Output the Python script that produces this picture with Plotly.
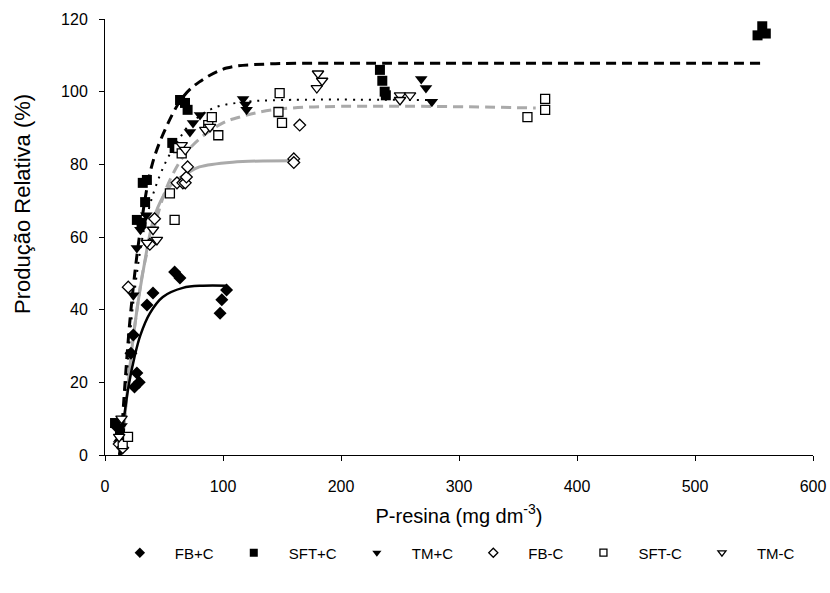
import plotly.graph_objects as go

fbc_pos_x = [10, 13, 22, 24, 25, 27, 29, 35.6, 40.7, 59, 63.5, 97.5, 99, 103]
fbc_pos_y = [7.7, 4, 28, 33, 18.7, 22.6, 20, 41.3, 44.6, 50.4, 48.7, 39, 42.7, 45.4]

sft_pos_x = [8.5, 12.7, 27, 31, 32, 34, 35.5, 57, 59, 63.6, 67.8, 70, 233, 235, 237, 238, 553, 557, 560]
sft_pos_y = [8.8, 6, 64.7, 63.9, 74.9, 69.6, 75.7, 85.9, 84.5, 97.7, 96.9, 95, 106, 103, 100, 99, 115.5, 118, 116]

tm_pos_x = [12, 14, 24, 27, 30, 35, 72, 74.6, 80.5, 117, 119, 120, 268, 272, 277]
tm_pos_y = [3, 8, 44, 57, 62, 66, 88.9, 91.4, 93.6, 98, 96.5, 95, 103.5, 101, 97.2]

fb_neg_x = [12, 15, 19.7, 38, 42, 61, 66, 68, 69, 70, 160, 160, 165]
fb_neg_y = [3, 2, 46.2, 58, 65, 74.9, 74.9, 74.9, 76.5, 79.3, 81.5, 80.5, 90.8]

sft_neg_x = [15, 19.5, 55, 59, 62, 65, 87.5, 90.5, 96, 147, 148, 150, 358, 373, 373]
sft_neg_y = [3, 5, 72, 64.7, 84.5, 83, 90.8, 93, 88, 94.4, 99.6, 91.4, 93, 95, 98]

tm_neg_x = [12, 14, 35.6, 40.7, 44, 65, 68, 85, 89, 179.5, 180.5, 184, 250, 250, 258.5]
tm_neg_y = [5, 10, 58.4, 62, 59.2, 85.3, 84, 89.5, 90.3, 101, 105, 103, 99, 97.7, 99]

# ---- fitted curves ----
fit_fbc_pos_x = [12, 16, 20, 25, 30, 38, 49, 66, 83, 103]
fit_fbc_pos_y = [0, 10, 19, 27, 33, 39, 43.5, 46, 46.6, 46.6]

fit_sft_pos_x = [13, 17, 22, 30, 40, 52, 66, 80, 103, 137, 200, 560]
fit_sft_pos_y = [0, 20, 40, 62, 80, 90.3, 98.5, 102.7, 106.5, 107.6, 107.8, 107.8]

fit_tm_pos_x = [13, 18, 24, 33, 42, 52, 61, 72, 92, 120, 150, 275]
fit_tm_pos_y = [0, 20, 42, 62, 73, 81, 86, 91, 95.5, 97.2, 97.7, 97.7]

fit_fb_neg_x = [14, 19, 25, 32, 41, 49, 58, 70, 80, 108, 160]
fit_fb_neg_y = [0, 18, 35, 50, 64.7, 71, 75, 77.6, 79.3, 80.6, 81]

fit_sft_neg_x = [14, 19, 25, 33, 42, 52.5, 66, 80, 100, 114, 150, 365]
fit_sft_neg_y = [0, 18, 35, 52, 63, 73.8, 82, 87, 91.4, 93, 95.3, 95.5]

series_names = ["FB+C", "SFT+C", "TM+C", "FB-C", "SFT-C", "TM-C"]

fig = go.Figure()

GRAY = "#aaaaaa"
# curves
fig.add_trace(go.Scatter(x=fit_fb_neg_x, y=fit_fb_neg_y, mode="lines", line=dict(color=GRAY, width=3, shape="spline"), showlegend=False, hoverinfo="skip"))
fig.add_trace(go.Scatter(x=fit_sft_neg_x, y=fit_sft_neg_y, mode="lines", line=dict(color=GRAY, width=3, dash="10px,6px", shape="spline"), showlegend=False, hoverinfo="skip"))
fig.add_trace(go.Scatter(x=fit_tm_pos_x, y=fit_tm_pos_y, mode="lines", line=dict(color="black", width=2, dash="2px,6px", shape="spline"), showlegend=False, hoverinfo="skip"))
fig.add_trace(go.Scatter(x=fit_fbc_pos_x, y=fit_fbc_pos_y, mode="lines", line=dict(color="black", width=2.5, shape="spline"), showlegend=False, hoverinfo="skip"))
fig.add_trace(go.Scatter(x=fit_sft_pos_x, y=fit_sft_pos_y, mode="lines", line=dict(color="black", width=3, dash="10px,6px", shape="spline"), showlegend=False, hoverinfo="skip"))

def marker(symbol, size, filled):
    if filled:
        return dict(symbol=symbol, size=size, color="black", line=dict(width=0))
    return dict(symbol=symbol, size=size, color="white", line=dict(width=1.3, color="black"))

specs = [
    (fbc_pos_x, fbc_pos_y, "diamond", 10, True),
    (sft_pos_x, sft_pos_y, "square", 10, True),
    (tm_pos_x, tm_pos_y, "triangle-down", 11, True),
    (fb_neg_x, fb_neg_y, "diamond", 9, False),
    (sft_neg_x, sft_neg_y, "square", 9, False),
    (tm_neg_x, tm_neg_y, "triangle-down", 10, False),
]
for (x, y, sym, size, filled), name in zip(specs, series_names):
    fig.add_trace(go.Scatter(x=x, y=y, mode="markers", name=name, marker=marker(sym, size, filled),
                             cliponaxis=False, showlegend=False))
# legend entries (smaller symbols as in the reference legend)
for (x, y, sym, size, filled), name in zip(specs, series_names):
    fig.add_trace(go.Scatter(x=[None], y=[None], mode="markers", name=name,
                             marker=marker(sym, 8 if filled else 7, filled), showlegend=True))

font = "Liberation Sans, Arial, sans-serif"
fig.update_layout(
    width=830, height=593,
    margin=dict(l=105, r=17, t=19, b=138, autoexpand=False),
    paper_bgcolor="white", plot_bgcolor="white",
    font=dict(family=font, color="black", size=16),
    xaxis=dict(range=[0, 600], tickvals=[0, 100, 200, 300, 400, 500, 600], showgrid=False, zeroline=False,
               showline=True, linecolor="black", linewidth=1, ticks="outside", ticklen=5, tickcolor="black",
               tickfont=dict(size=16), ticklabelstandoff=12, automargin=False,
               title=dict(text="P-resina (mg dm<sup>-3</sup>)", font=dict(size=20), standoff=14)),
    yaxis=dict(range=[0, 120], tickvals=[0, 20, 40, 60, 80, 100, 120], showgrid=False, zeroline=False,
               showline=True, linecolor="black", linewidth=1, ticks="outside", ticklen=5, tickcolor="black",
               tickfont=dict(size=16), ticklabelstandoff=8, automargin=False),
    legend=dict(orientation="h", xref="container", yref="container", x=0.545, xanchor="center",
                y=0.0675, yanchor="middle", font=dict(size=15), itemwidth=60),
    showlegend=True,
    annotations=[dict(text="Produção Relativa (%)", textangle=-90, xref="paper", yref="paper",
                      x=-105/708 + 23/708, y=(455 - 204) / 436, xanchor="center", yanchor="middle",
                      showarrow=False, font=dict(size=22))],
)

fig.write_html("out.html", post_script="document.body.style.margin='0px';")
